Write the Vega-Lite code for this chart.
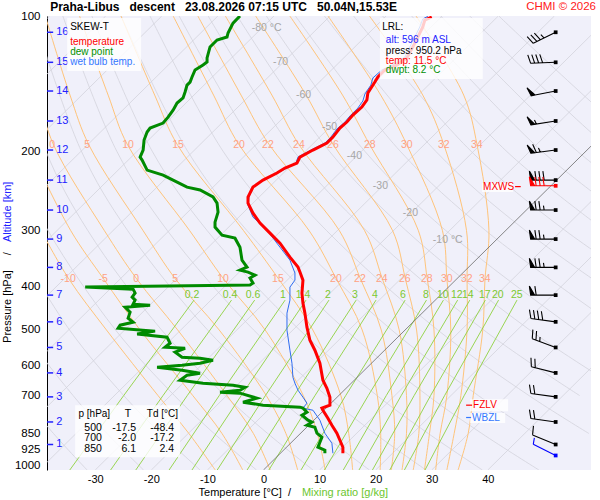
{
  "$schema": "https://vega.github.io/schema/vega-lite/v6.json",
  "description": "Skew-T log-p diagram, Praha-Libus descent 23.08.2026 07:15 UTC",
  "autosize": {"type": "none"},
  "padding": {"left": 47, "top": 16, "right": 9, "bottom": 30},
  "background": "white",
  "width": 544,
  "height": 454,
  "config": {
    "font": "Liberation Sans",
    "view": {"fill": "#f0f0fa", "stroke": null}
  },
  "datasets": {
    "isotherms": [
      {"t": -120, "p": 1025, "tx": -120}, {"t": -120, "p": 100, "tx": -38.13},
      {"t": -110, "p": 1025, "tx": -110}, {"t": -110, "p": 100, "tx": -28.13},
      {"t": -100, "p": 1025, "tx": -100}, {"t": -100, "p": 100, "tx": -18.13},
      {"t": -90, "p": 1025, "tx": -90}, {"t": -90, "p": 100, "tx": -8.13},
      {"t": -80, "p": 1025, "tx": -80}, {"t": -80, "p": 100, "tx": 1.87},
      {"t": -70, "p": 1025, "tx": -70}, {"t": -70, "p": 100, "tx": 11.87},
      {"t": -60, "p": 1025, "tx": -60}, {"t": -60, "p": 100, "tx": 21.87},
      {"t": -50, "p": 1025, "tx": -50}, {"t": -50, "p": 100, "tx": 31.87},
      {"t": -40, "p": 1025, "tx": -40}, {"t": -40, "p": 100, "tx": 41.87},
      {"t": -30, "p": 1025, "tx": -30}, {"t": -30, "p": 100, "tx": 51.87},
      {"t": -20, "p": 1025, "tx": -20}, {"t": -20, "p": 100, "tx": 61.87},
      {"t": -10, "p": 1025, "tx": -10}, {"t": -10, "p": 100, "tx": 71.87},
      {"t": 10, "p": 1025, "tx": 10}, {"t": 10, "p": 100, "tx": 91.87},
      {"t": 20, "p": 1025, "tx": 20}, {"t": 20, "p": 100, "tx": 101.87},
      {"t": 30, "p": 1025, "tx": 30}, {"t": 30, "p": 100, "tx": 111.87},
      {"t": 40, "p": 1025, "tx": 40}, {"t": 40, "p": 100, "tx": 121.87}
    ],
    "dryAdiabats": [
      {"theta": 240, "p": 1025, "tx": -31.45}, {"theta": 240, "p": 850, "tx": -37.45}, {"theta": 240, "p": 700, "tx": -42.97}, {"theta": 240, "p": 500, "tx": -50.99},
      {"theta": 250, "p": 1025, "tx": -21.38}, {"theta": 250, "p": 850, "tx": -27.9}, {"theta": 250, "p": 700, "tx": -33.94}, {"theta": 250, "p": 500, "tx": -42.78}, {"theta": 250, "p": 300, "tx": -52.63},
      {"theta": 260, "p": 1025, "tx": -11.31}, {"theta": 260, "p": 850, "tx": -18.35}, {"theta": 260, "p": 700, "tx": -24.91}, {"theta": 260, "p": 500, "tx": -34.58}, {"theta": 260, "p": 300, "tx": -45.54},
      {"theta": 270, "p": 1025, "tx": -1.24}, {"theta": 270, "p": 850, "tx": -8.81}, {"theta": 270, "p": 700, "tx": -15.87}, {"theta": 270, "p": 500, "tx": -26.38}, {"theta": 270, "p": 300, "tx": -38.45}, {"theta": 270, "p": 200, "tx": -45.11},
      {"theta": 280, "p": 1025, "tx": 8.83}, {"theta": 280, "p": 850, "tx": 0.74}, {"theta": 280, "p": 700, "tx": -6.84}, {"theta": 280, "p": 500, "tx": -18.17}, {"theta": 280, "p": 300, "tx": -31.35}, {"theta": 280, "p": 200, "tx": -38.79}, {"theta": 280, "p": 100, "tx": -46.14},
      {"theta": 290, "p": 1025, "tx": 18.9}, {"theta": 290, "p": 850, "tx": 10.29}, {"theta": 290, "p": 700, "tx": 2.19}, {"theta": 290, "p": 500, "tx": -9.97}, {"theta": 290, "p": 300, "tx": -24.26}, {"theta": 290, "p": 200, "tx": -32.47}, {"theta": 290, "p": 100, "tx": -40.96},
      {"theta": 300, "p": 1025, "tx": 28.97}, {"theta": 300, "p": 850, "tx": 19.83}, {"theta": 300, "p": 700, "tx": 11.22}, {"theta": 300, "p": 500, "tx": -1.76}, {"theta": 300, "p": 300, "tx": -17.17}, {"theta": 300, "p": 200, "tx": -26.16}, {"theta": 300, "p": 100, "tx": -35.78},
      {"theta": 310, "p": 1025, "tx": 39.04}, {"theta": 310, "p": 850, "tx": 29.38}, {"theta": 310, "p": 700, "tx": 20.26}, {"theta": 310, "p": 500, "tx": 6.44}, {"theta": 310, "p": 300, "tx": -10.08}, {"theta": 310, "p": 200, "tx": -19.84}, {"theta": 310, "p": 100, "tx": -30.59},
      {"theta": 320, "p": 1025, "tx": 49.11}, {"theta": 320, "p": 850, "tx": 38.93}, {"theta": 320, "p": 700, "tx": 29.29}, {"theta": 320, "p": 500, "tx": 14.65}, {"theta": 320, "p": 300, "tx": -2.99}, {"theta": 320, "p": 200, "tx": -13.52}, {"theta": 320, "p": 100, "tx": -25.41},
      {"theta": 330, "p": 850, "tx": 48.47}, {"theta": 330, "p": 700, "tx": 38.32}, {"theta": 330, "p": 500, "tx": 22.85}, {"theta": 330, "p": 300, "tx": 4.11}, {"theta": 330, "p": 200, "tx": -7.21}, {"theta": 330, "p": 100, "tx": -20.23},
      {"theta": 340, "p": 850, "tx": 58.02}, {"theta": 340, "p": 700, "tx": 47.35}, {"theta": 340, "p": 500, "tx": 31.06}, {"theta": 340, "p": 300, "tx": 11.2}, {"theta": 340, "p": 200, "tx": -0.89}, {"theta": 340, "p": 100, "tx": -15.04},
      {"theta": 350, "p": 700, "tx": 56.38}, {"theta": 350, "p": 500, "tx": 39.26}, {"theta": 350, "p": 300, "tx": 18.29}, {"theta": 350, "p": 200, "tx": 5.43}, {"theta": 350, "p": 100, "tx": -9.86},
      {"theta": 360, "p": 700, "tx": 65.42}, {"theta": 360, "p": 500, "tx": 47.47}, {"theta": 360, "p": 300, "tx": 25.38}, {"theta": 360, "p": 200, "tx": 11.75}, {"theta": 360, "p": 100, "tx": -4.68},
      {"theta": 370, "p": 500, "tx": 55.67}, {"theta": 370, "p": 300, "tx": 32.47}, {"theta": 370, "p": 200, "tx": 18.06}, {"theta": 370, "p": 100, "tx": 0.51},
      {"theta": 380, "p": 500, "tx": 63.87}, {"theta": 380, "p": 300, "tx": 39.57}, {"theta": 380, "p": 200, "tx": 24.38}, {"theta": 380, "p": 100, "tx": 5.69},
      {"theta": 390, "p": 500, "tx": 72.08}, {"theta": 390, "p": 300, "tx": 46.66}, {"theta": 390, "p": 200, "tx": 30.7}, {"theta": 390, "p": 100, "tx": 10.87},
      {"theta": 400, "p": 500, "tx": 80.28}, {"theta": 400, "p": 300, "tx": 53.75}, {"theta": 400, "p": 200, "tx": 37.01}, {"theta": 400, "p": 100, "tx": 16.06},
      {"theta": 410, "p": 300, "tx": 60.84}, {"theta": 410, "p": 200, "tx": 43.33}, {"theta": 410, "p": 100, "tx": 21.24},
      {"theta": 420, "p": 300, "tx": 67.93}, {"theta": 420, "p": 200, "tx": 49.65}, {"theta": 420, "p": 100, "tx": 26.42},
      {"theta": 430, "p": 300, "tx": 75.03}, {"theta": 430, "p": 200, "tx": 55.97}, {"theta": 430, "p": 100, "tx": 31.61},
      {"theta": 440, "p": 300, "tx": 82.12}, {"theta": 440, "p": 200, "tx": 62.28}, {"theta": 440, "p": 100, "tx": 36.79},
      {"theta": 450, "p": 300, "tx": 89.21}, {"theta": 450, "p": 200, "tx": 68.6}, {"theta": 450, "p": 100, "tx": 41.97}
    ],
    "moistAdiabats": [
      {"tw": -10, "p": 1025, "tx": -8.6}, {"tw": -10, "p": 850, "tx": -13.3}, {"tw": -10, "p": 700, "tx": -18.8}, {"tw": -10, "p": 500, "tx": -28.0}, {"tw": -10, "p": 385, "tx": -34.7}, {"tw": -10, "p": 300, "tx": -39.7},
      {"tw": -5, "p": 1025, "tx": -3.7}, {"tw": -5, "p": 850, "tx": -7.4}, {"tw": -5, "p": 700, "tx": -12.6}, {"tw": -5, "p": 500, "tx": -22.0}, {"tw": -5, "p": 385, "tx": -28.5}, {"tw": -5, "p": 300, "tx": -34.4}, {"tw": -5, "p": 194, "tx": -42.0},
      {"tw": 0, "p": 1025, "tx": 1.2}, {"tw": 0, "p": 850, "tx": -1.8}, {"tw": 0, "p": 700, "tx": -6.5}, {"tw": 0, "p": 500, "tx": -15.3}, {"tw": 0, "p": 385, "tx": -22.6}, {"tw": 0, "p": 300, "tx": -28.4}, {"tw": 0, "p": 194, "tx": -37.4}, {"tw": 0, "p": 150, "tx": -40.2}, {"tw": 0, "p": 100, "tx": -44.0},
      {"tw": 5, "p": 1025, "tx": 6.1}, {"tw": 5, "p": 850, "tx": 4.0}, {"tw": 5, "p": 700, "tx": 0.5}, {"tw": 5, "p": 500, "tx": -7.9}, {"tw": 5, "p": 385, "tx": -15.7}, {"tw": 5, "p": 300, "tx": -21.5}, {"tw": 5, "p": 194, "tx": -31.1}, {"tw": 5, "p": 150, "tx": -34.5}, {"tw": 5, "p": 100, "tx": -38.9},
      {"tw": 10, "p": 1025, "tx": 11.0}, {"tw": 10, "p": 850, "tx": 9.6}, {"tw": 10, "p": 700, "tx": 7.1}, {"tw": 10, "p": 500, "tx": 0.3}, {"tw": 10, "p": 385, "tx": -7.1}, {"tw": 10, "p": 300, "tx": -13.2}, {"tw": 10, "p": 194, "tx": -24.2}, {"tw": 10, "p": 150, "tx": -27.7}, {"tw": 10, "p": 100, "tx": -32.8},
      {"tw": 15, "p": 1025, "tx": 15.9}, {"tw": 15, "p": 850, "tx": 15.2}, {"tw": 15, "p": 700, "tx": 13.8}, {"tw": 15, "p": 500, "tx": 8.8}, {"tw": 15, "p": 385, "tx": 2.7}, {"tw": 15, "p": 300, "tx": -3.6}, {"tw": 15, "p": 194, "tx": -15.3}, {"tw": 15, "p": 150, "tx": -19.4}, {"tw": 15, "p": 100, "tx": -25.4},
      {"tw": 20, "p": 1025, "tx": 20.8}, {"tw": 20, "p": 850, "tx": 20.9}, {"tw": 20, "p": 700, "tx": 20.3}, {"tw": 20, "p": 500, "tx": 17.6}, {"tw": 20, "p": 385, "tx": 13.0}, {"tw": 20, "p": 300, "tx": 8.1}, {"tw": 20, "p": 194, "tx": -4.3}, {"tw": 20, "p": 150, "tx": -8.9}, {"tw": 20, "p": 100, "tx": -16.1},
      {"tw": 22, "p": 1025, "tx": 22.8}, {"tw": 22, "p": 850, "tx": 23.4}, {"tw": 22, "p": 700, "tx": 22.9}, {"tw": 22, "p": 500, "tx": 21.0}, {"tw": 22, "p": 385, "tx": 17.3}, {"tw": 22, "p": 300, "tx": 13.5}, {"tw": 22, "p": 194, "tx": 1.1}, {"tw": 22, "p": 150, "tx": -4.0}, {"tw": 22, "p": 100, "tx": -11.7},
      {"tw": 24, "p": 1025, "tx": 24.7}, {"tw": 24, "p": 850, "tx": 25.5}, {"tw": 24, "p": 700, "tx": 25.5}, {"tw": 24, "p": 500, "tx": 24.2}, {"tw": 24, "p": 385, "tx": 21.2}, {"tw": 24, "p": 300, "tx": 18.0}, {"tw": 24, "p": 194, "tx": 6.4}, {"tw": 24, "p": 150, "tx": 1.5}, {"tw": 24, "p": 100, "tx": -6.8},
      {"tw": 26, "p": 1025, "tx": 26.7}, {"tw": 26, "p": 850, "tx": 27.7}, {"tw": 26, "p": 700, "tx": 27.9}, {"tw": 26, "p": 500, "tx": 27.3}, {"tw": 26, "p": 385, "tx": 25.3}, {"tw": 26, "p": 300, "tx": 23.0}, {"tw": 26, "p": 194, "tx": 12.5}, {"tw": 26, "p": 150, "tx": 7.6}, {"tw": 26, "p": 100, "tx": -1.4},
      {"tw": 28, "p": 1025, "tx": 28.7}, {"tw": 28, "p": 850, "tx": 29.6}, {"tw": 28, "p": 700, "tx": 30.4}, {"tw": 28, "p": 500, "tx": 30.4}, {"tw": 28, "p": 385, "tx": 29.2}, {"tw": 28, "p": 300, "tx": 27.6}, {"tw": 28, "p": 194, "tx": 19.0}, {"tw": 28, "p": 150, "tx": 14.1}, {"tw": 28, "p": 100, "tx": 4.7},
      {"tw": 30, "p": 1025, "tx": 30.7}, {"tw": 30, "p": 850, "tx": 31.5}, {"tw": 30, "p": 700, "tx": 32.7}, {"tw": 30, "p": 500, "tx": 33.4}, {"tw": 30, "p": 385, "tx": 32.7}, {"tw": 30, "p": 300, "tx": 31.9}, {"tw": 30, "p": 194, "tx": 25.6}, {"tw": 30, "p": 150, "tx": 20.9}, {"tw": 30, "p": 100, "tx": 11.5},
      {"tw": 32, "p": 1025, "tx": 32.7}, {"tw": 32, "p": 850, "tx": 34.0}, {"tw": 32, "p": 700, "tx": 35.2}, {"tw": 32, "p": 500, "tx": 36.3}, {"tw": 32, "p": 385, "tx": 36.3}, {"tw": 32, "p": 300, "tx": 36.2}, {"tw": 32, "p": 194, "tx": 32.2}, {"tw": 32, "p": 150, "tx": 28.4}, {"tw": 32, "p": 100, "tx": 18.9},
      {"tw": 34, "p": 1025, "tx": 34.7}, {"tw": 34, "p": 850, "tx": 36.5}, {"tw": 34, "p": 700, "tx": 37.4}, {"tw": 34, "p": 500, "tx": 39.1}, {"tw": 34, "p": 385, "tx": 39.5}, {"tw": 34, "p": 300, "tx": 40.2}, {"tw": 34, "p": 194, "tx": 38.1}, {"tw": 34, "p": 150, "tx": 35.7}, {"tw": 34, "p": 100, "tx": 27.2}
    ],
    "mixingRatio": [
      {"w": 0.2, "p": 1025, "tx": -34.54}, {"w": 0.2, "p": 700, "tx": -24.93}, {"w": 0.2, "p": 429, "tx": -12.38},
      {"w": 0.4, "p": 1025, "tx": -27.26}, {"w": 0.4, "p": 700, "tx": -17.92}, {"w": 0.4, "p": 429, "tx": -5.69},
      {"w": 0.6, "p": 1025, "tx": -22.77}, {"w": 0.6, "p": 700, "tx": -13.59}, {"w": 0.6, "p": 429, "tx": -1.57},
      {"w": 1, "p": 1025, "tx": -16.83}, {"w": 1, "p": 700, "tx": -7.89}, {"w": 1, "p": 429, "tx": 3.86},
      {"w": 1.4, "p": 1025, "tx": -12.75}, {"w": 1.4, "p": 700, "tx": -3.97}, {"w": 1.4, "p": 429, "tx": 7.59},
      {"w": 2, "p": 1025, "tx": -8.25}, {"w": 2, "p": 700, "tx": 0.34}, {"w": 2, "p": 429, "tx": 11.68},
      {"w": 3, "p": 1025, "tx": -2.92}, {"w": 3, "p": 700, "tx": 5.46}, {"w": 3, "p": 429, "tx": 16.53},
      {"w": 4, "p": 1025, "tx": 0.96}, {"w": 4, "p": 700, "tx": 9.18}, {"w": 4, "p": 429, "tx": 20.07},
      {"w": 6, "p": 1025, "tx": 6.69}, {"w": 6, "p": 700, "tx": 14.66}, {"w": 6, "p": 429, "tx": 25.26},
      {"w": 8, "p": 1025, "tx": 10.88}, {"w": 8, "p": 700, "tx": 18.68}, {"w": 8, "p": 429, "tx": 29.06},
      {"w": 10, "p": 1025, "tx": 14.23}, {"w": 10, "p": 700, "tx": 21.89}, {"w": 10, "p": 429, "tx": 32.09},
      {"w": 12, "p": 1025, "tx": 17.03}, {"w": 12, "p": 700, "tx": 24.56}, {"w": 12, "p": 429, "tx": 34.62},
      {"w": 14, "p": 1025, "tx": 19.43}, {"w": 14, "p": 700, "tx": 26.86}, {"w": 14, "p": 429, "tx": 36.79},
      {"w": 17, "p": 1025, "tx": 22.52}, {"w": 17, "p": 700, "tx": 29.79}, {"w": 17, "p": 429, "tx": 39.56},
      {"w": 20, "p": 1025, "tx": 25.13}, {"w": 20, "p": 700, "tx": 32.29}, {"w": 20, "p": 429, "tx": 41.92},
      {"w": 25, "p": 1025, "tx": 28.8}, {"w": 25, "p": 700, "tx": 35.79}, {"w": 25, "p": 429, "tx": 45.21}
    ],
    "temperature": [
      {"p": 940.6, "tx": 14.16}, {"p": 912.1, "tx": 14.16}, {"p": 880.0, "tx": 13.63}, {"p": 848.9, "tx": 13.09}, {"p": 814.8, "tx": 12.2},
      {"p": 786.0, "tx": 11.49}, {"p": 754.4, "tx": 10.6}, {"p": 746.6, "tx": 10.42}, {"p": 735.2, "tx": 11.85}, {"p": 705.7, "tx": 11.85},
      {"p": 674.3, "tx": 11.31}, {"p": 647.1, "tx": 10.6}, {"p": 593.0, "tx": 10.06}, {"p": 554.7, "tx": 9.17}, {"p": 527.0, "tx": 8.28},
      {"p": 492.9, "tx": 7.75}, {"p": 458.7, "tx": 7.39}, {"p": 435.8, "tx": 7.04}, {"p": 414.0, "tx": 6.86}, {"p": 387.3, "tx": 7.04},
      {"p": 371.6, "tx": 6.5}, {"p": 362.2, "tx": 6.15}, {"p": 344.3, "tx": 4.72}, {"p": 320.4, "tx": 2.94}, {"p": 304.3, "tx": 1.16},
      {"p": 289.1, "tx": -0.62}, {"p": 274.7, "tx": -1.87}, {"p": 260.9, "tx": -2.76}, {"p": 252.9, "tx": -2.76}, {"p": 240.4, "tx": -1.87},
      {"p": 231.9, "tx": -0.09}, {"p": 223.7, "tx": 2.4}, {"p": 218.0, "tx": 3.83}, {"p": 212.6, "tx": 5.97}, {"p": 206.1, "tx": 6.5},
      {"p": 198.8, "tx": 8.82}, {"p": 191.8, "tx": 11.31}, {"p": 186.0, "tx": 12.38}, {"p": 177.6, "tx": 13.63}, {"p": 172.2, "tx": 14.87},
      {"p": 166.2, "tx": 15.94}, {"p": 159.5, "tx": 17.54}, {"p": 153.8, "tx": 18.44}, {"p": 148.4, "tx": 18.61}, {"p": 140.3, "tx": 19.86},
      {"p": 136.7, "tx": 20.4}, {"p": 131.9, "tx": 21.64}, {"p": 128.6, "tx": 23.78}, {"p": 124.0, "tx": 25.56}, {"p": 117.2, "tx": 26.63},
      {"p": 111.4, "tx": 27.52}, {"p": 105.8, "tx": 28.41}, {"p": 102.1, "tx": 28.77}, {"p": 100.5, "tx": 30.01}
    ],
    "wetBulb": [
      {"p": 940.6, "tx": 12.38}, {"p": 893.7, "tx": 12.2}, {"p": 848.9, "tx": 10.95}, {"p": 794.1, "tx": 10.06}, {"p": 754.4, "tx": 8.82},
      {"p": 746.6, "tx": 7.04}, {"p": 727.7, "tx": 7.75}, {"p": 705.7, "tx": 7.04}, {"p": 680.8, "tx": 6.15}, {"p": 657.2, "tx": 5.61},
      {"p": 637.2, "tx": 5.25}, {"p": 593.0, "tx": 5.08}, {"p": 554.7, "tx": 4.72}, {"p": 500.6, "tx": 4.19}, {"p": 458.7, "tx": 4.19},
      {"p": 429.1, "tx": 4.72}, {"p": 401.4, "tx": 4.72}, {"p": 387.3, "tx": 5.61}, {"p": 373.5, "tx": 5.61}, {"p": 349.6, "tx": 4.72},
      {"p": 327.1, "tx": 2.94}, {"p": 299.7, "tx": 0.62}, {"p": 280.4, "tx": -1.87}, {"p": 263.7, "tx": -2.76}, {"p": 252.9, "tx": -2.58},
      {"p": 240.4, "tx": -1.87}, {"p": 233.1, "tx": -0.27}, {"p": 220.3, "tx": 3.47}, {"p": 212.6, "tx": 5.79}, {"p": 206.1, "tx": 6.15},
      {"p": 198.8, "tx": 8.46}, {"p": 191.8, "tx": 10.95}, {"p": 186.0, "tx": 12.02}, {"p": 178.5, "tx": 13.09}, {"p": 172.2, "tx": 14.52},
      {"p": 167.0, "tx": 15.41}, {"p": 160.3, "tx": 16.83}, {"p": 154.6, "tx": 17.72}, {"p": 149.2, "tx": 18.08}, {"p": 142.5, "tx": 19.15},
      {"p": 137.4, "tx": 19.5}, {"p": 131.9, "tx": 21.11}, {"p": 127.9, "tx": 23.42}, {"p": 123.4, "tx": 25.21}, {"p": 117.2, "tx": 26.1},
      {"p": 111.4, "tx": 26.98}, {"p": 105.8, "tx": 27.87}, {"p": 101.5, "tx": 28.41}, {"p": 100.2, "tx": 29.3}
    ],
    "dewPoint": [
      {"p": 100, "tx": -4.19}, {"p": 103.7, "tx": -5.43}, {"p": 109.1, "tx": -6.32}, {"p": 111.4, "tx": -6.5}, {"p": 113.1, "tx": -8.28},
      {"p": 117.2, "tx": -9.53}, {"p": 124.0, "tx": -10.06}, {"p": 126.6, "tx": -10.06}, {"p": 128.6, "tx": -10.78}, {"p": 131.9, "tx": -12.2},
      {"p": 136.7, "tx": -12.74}, {"p": 140.3, "tx": -13.09}, {"p": 142.5, "tx": -13.63}, {"p": 147.6, "tx": -13.98}, {"p": 152.2, "tx": -14.34},
      {"p": 156.2, "tx": -15.41}, {"p": 162.0, "tx": -16.12}, {"p": 167.9, "tx": -17.01}, {"p": 173.1, "tx": -17.9}, {"p": 177.6, "tx": -20.22},
      {"p": 181.3, "tx": -20.75}, {"p": 188.9, "tx": -21.29}, {"p": 198.8, "tx": -21.46}, {"p": 206.1, "tx": -22.0}, {"p": 209.3, "tx": -21.64},
      {"p": 220.3, "tx": -20.75}, {"p": 226.0, "tx": -17.9}, {"p": 231.9, "tx": -16.12}, {"p": 240.4, "tx": -13.63}, {"p": 244.0, "tx": -11.31},
      {"p": 252.9, "tx": -9.0}, {"p": 260.9, "tx": -8.28}, {"p": 273.3, "tx": -8.1}, {"p": 287.7, "tx": -8.64}, {"p": 295.1, "tx": -8.64},
      {"p": 307.5, "tx": -7.39}, {"p": 312.3, "tx": -5.08}, {"p": 327.1, "tx": -4.19}, {"p": 349.6, "tx": -3.83}, {"p": 362.2, "tx": -2.94},
      {"p": 367.9, "tx": -4.19}, {"p": 371.6, "tx": -2.76}, {"p": 377.4, "tx": -1.51}, {"p": 383.2, "tx": -2.4}, {"p": 393.3, "tx": -1.87},
      {"p": 397.3, "tx": -2.4}, {"p": 401.4, "tx": -31.79}, {"p": 405.6, "tx": -23.25}, {"p": 414.0, "tx": -22.89}, {"p": 422.6, "tx": -23.42},
      {"p": 429.1, "tx": -22.89}, {"p": 438.0, "tx": -23.25}, {"p": 440.3, "tx": -20.22}, {"p": 444.9, "tx": -24.67}, {"p": 456.4, "tx": -23.78},
      {"p": 470.6, "tx": -24.14}, {"p": 480.4, "tx": -23.25}, {"p": 487.9, "tx": -25.56}, {"p": 495.5, "tx": -25.92}, {"p": 503.0, "tx": -19.33},
      {"p": 510.7, "tx": -22.53}, {"p": 518.9, "tx": -17.19}, {"p": 535.2, "tx": -16.65}, {"p": 546.3, "tx": -17.54}, {"p": 549.1, "tx": -13.98},
      {"p": 560.4, "tx": -15.76}, {"p": 575.0, "tx": -14.52}, {"p": 577.9, "tx": -11.31}, {"p": 583.9, "tx": -9.0}, {"p": 593.0, "tx": -11.31},
      {"p": 599.1, "tx": -14.52}, {"p": 605.3, "tx": -18.97}, {"p": 614.7, "tx": -14.52}, {"p": 624.3, "tx": -11.31}, {"p": 630.7, "tx": -13.63},
      {"p": 647.1, "tx": -14.87}, {"p": 657.2, "tx": -10.78}, {"p": 663.9, "tx": -5.43}, {"p": 670.8, "tx": -3.3}, {"p": 680.8, "tx": -4.19},
      {"p": 687.8, "tx": -7.75}, {"p": 691.3, "tx": -4.19}, {"p": 709.3, "tx": -1.16}, {"p": 724.0, "tx": -3.65}, {"p": 735.2, "tx": -0.09},
      {"p": 742.8, "tx": 6.5}, {"p": 746.6, "tx": 7.04}, {"p": 762.1, "tx": 7.75}, {"p": 774.0, "tx": 6.86}, {"p": 794.1, "tx": 7.93},
      {"p": 802.3, "tx": 8.64}, {"p": 814.8, "tx": 7.75}, {"p": 823.2, "tx": 9.17}, {"p": 848.9, "tx": 9.53}, {"p": 866.5, "tx": 10.42},
      {"p": 912.1, "tx": 9.71}, {"p": 926.3, "tx": 10.95}, {"p": 940.6, "tx": 10.95}
    ],
    "altitudeTicks": [
      {"km": 16, "p": 108.7, "tx": -38.6, "tx2": -37.5}, {"km": 15, "p": 126.8, "tx": -38.6, "tx2": -37.5},
      {"km": 14, "p": 146.9, "tx": -38.6, "tx2": -37.5}, {"km": 13, "p": 171.3, "tx": -38.6, "tx2": -37.5},
      {"km": 12, "p": 198.8, "tx": -38.6, "tx2": -37.5}, {"km": 11, "p": 231.9, "tx": -38.6, "tx2": -37.5},
      {"km": 10, "p": 270.4, "tx": -38.6, "tx2": -37.5}, {"km": 9, "p": 313.8, "tx": -38.6, "tx2": -37.5},
      {"km": 8, "p": 362.8, "tx": -38.6, "tx2": -37.5}, {"km": 7, "p": 418.2, "tx": -38.6, "tx2": -37.5},
      {"km": 6, "p": 479.6, "tx": -38.6, "tx2": -37.5}, {"km": 5, "p": 546.9, "tx": -38.6, "tx2": -37.5},
      {"km": 4, "p": 623.1, "tx": -38.6, "tx2": -37.5}, {"km": 3, "p": 704.6, "tx": -38.6, "tx2": -37.5},
      {"km": 2, "p": 801.3, "tx": -38.6, "tx2": -37.5}, {"km": 1, "p": 899.4, "tx": -38.6, "tx2": -37.5}
    ],
    "altitudeLabels": [
      {"text": "16", "p": 108.7, "tx": -36.96}, {"text": "15", "p": 126.8, "tx": -36.96}, {"text": "14", "p": 146.9, "tx": -36.96},
      {"text": "13", "p": 171.3, "tx": -36.96}, {"text": "12", "p": 198.8, "tx": -36.96}, {"text": "11", "p": 231.9, "tx": -36.96},
      {"text": "10", "p": 270.4, "tx": -36.96}, {"text": "9", "p": 313.8, "tx": -36.96}, {"text": "8", "p": 362.8, "tx": -36.96},
      {"text": "7", "p": 418.2, "tx": -36.96}, {"text": "6", "p": 479.6, "tx": -36.96}, {"text": "5", "p": 546.9, "tx": -36.96},
      {"text": "4", "p": 623.1, "tx": -36.96}, {"text": "3", "p": 704.6, "tx": -36.96}, {"text": "2", "p": 801.3, "tx": -36.96},
      {"text": "1", "p": 899.4, "tx": -36.96}
    ],
    "winds": [
      {"p": 108.7, "tx": 52.1, "barb": "b16", "kind": "wind"}, {"p": 126.8, "tx": 52.1, "barb": "b15", "kind": "wind"},
      {"p": 146.9, "tx": 52.1, "barb": "b14", "kind": "wind"}, {"p": 171.3, "tx": 52.1, "barb": "b13", "kind": "wind"},
      {"p": 198.8, "tx": 52.1, "barb": "b12", "kind": "wind"}, {"p": 231.9, "tx": 52.1, "barb": "b11", "kind": "wind"},
      {"p": 238.8, "tx": 52.1, "barb": "mx", "kind": "mx"}, {"p": 270.4, "tx": 52.1, "barb": "b10", "kind": "wind"},
      {"p": 313.8, "tx": 52.1, "barb": "b9", "kind": "wind"}, {"p": 362.8, "tx": 52.1, "barb": "b8", "kind": "wind"},
      {"p": 418.2, "tx": 52.1, "barb": "b7", "kind": "wind"}, {"p": 479.6, "tx": 52.1, "barb": "b6", "kind": "wind"},
      {"p": 546.9, "tx": 52.1, "barb": "b5", "kind": "wind"}, {"p": 623.1, "tx": 52.1, "barb": "b4", "kind": "wind"},
      {"p": 704.6, "tx": 52.1, "barb": "b3", "kind": "wind"}, {"p": 801.3, "tx": 52.1, "barb": "b2", "kind": "wind"},
      {"p": 899.4, "tx": 52.1, "barb": "b1", "kind": "wind"}, {"p": 951.5, "tx": 52.1, "barb": "sfc", "kind": "sfc"}
    ],
    "windDots": [
      {"p": 108.7, "tx": 52.1, "kind": "wind"}, {"p": 126.8, "tx": 52.1, "kind": "wind"}, {"p": 146.9, "tx": 52.1, "kind": "wind"},
      {"p": 171.3, "tx": 52.1, "kind": "wind"}, {"p": 198.8, "tx": 52.1, "kind": "wind"}, {"p": 231.9, "tx": 52.1, "kind": "wind"},
      {"p": 238.8, "tx": 52.1, "kind": "mx"}, {"p": 270.4, "tx": 52.1, "kind": "wind"}, {"p": 313.8, "tx": 52.1, "kind": "wind"},
      {"p": 362.8, "tx": 52.1, "kind": "wind"}, {"p": 418.2, "tx": 52.1, "kind": "wind"}, {"p": 479.6, "tx": 52.1, "kind": "wind"},
      {"p": 546.9, "tx": 52.1, "kind": "wind"}, {"p": 623.1, "tx": 52.1, "kind": "wind"}, {"p": 704.6, "tx": 52.1, "kind": "wind"},
      {"p": 801.3, "tx": 52.1, "kind": "wind"}, {"p": 899.4, "tx": 52.1, "kind": "wind"}, {"p": 951.5, "tx": 52.1, "kind": "sfc"}
    ],
    "isothermLabels": [
      {"tx": -2.1, "p": 106.2, "text": "-80 °C"}, {"tx": 1.69, "p": 126.8, "text": "-70"},
      {"tx": 5.79, "p": 150.0, "text": "-60"}, {"tx": 10.42, "p": 176.4, "text": "-50"},
      {"tx": 14.87, "p": 205.0, "text": "-40"}, {"tx": 19.5, "p": 238.8, "text": "-30"},
      {"tx": 24.85, "p": 274.2, "text": "-20"}, {"tx": 30.19, "p": 315.4, "text": "-10 °C"}
    ],
    "moistLabels": [
      {"tx": -34.82, "p": 385, "text": "-10"}, {"tx": -28.59, "p": 385, "text": "-5"}, {"tx": -22.71, "p": 385, "text": "0"},
      {"tx": -15.76, "p": 385, "text": "5"}, {"tx": -7.21, "p": 385, "text": "10"}, {"tx": 2.58, "p": 385, "text": "15"},
      {"tx": 12.91, "p": 385, "text": "20"}, {"tx": 17.19, "p": 385, "text": "22"}, {"tx": 21.11, "p": 385, "text": "24"},
      {"tx": 25.2, "p": 385, "text": "26"}, {"tx": 29.12, "p": 385, "text": "28"}, {"tx": 32.69, "p": 385, "text": "30"},
      {"tx": 36.25, "p": 385, "text": "32"}, {"tx": 39.45, "p": 385, "text": "34"},
      {"tx": -37.67, "p": 193.8, "text": "0"}, {"tx": -31.44, "p": 193.8, "text": "5"}, {"tx": -24.14, "p": 193.8, "text": "10"},
      {"tx": -15.23, "p": 193.8, "text": "15"}, {"tx": -4.36, "p": 193.8, "text": "20"}, {"tx": 0.8, "p": 193.8, "text": "22"},
      {"tx": 6.32, "p": 193.8, "text": "24"}, {"tx": 12.38, "p": 193.8, "text": "26"}, {"tx": 18.97, "p": 193.8, "text": "28"},
      {"tx": 25.56, "p": 193.8, "text": "30"}, {"tx": 32.15, "p": 193.8, "text": "32"}, {"tx": 38.03, "p": 193.8, "text": "34"}
    ],
    "mixingLabels": [
      {"tx": -12.74, "p": 418.2, "text": "0.2"}, {"tx": -5.97, "p": 418.2, "text": "0.4"}, {"tx": -1.87, "p": 418.2, "text": "0.6"},
      {"tx": 3.47, "p": 418.2, "text": "1"}, {"tx": 7.04, "p": 418.2, "text": "1.4"}, {"tx": 11.49, "p": 418.2, "text": "2"},
      {"tx": 16.3, "p": 418.2, "text": "3"}, {"tx": 19.86, "p": 418.2, "text": "4"}, {"tx": 24.85, "p": 418.2, "text": "6"},
      {"tx": 28.95, "p": 418.2, "text": "8"}, {"tx": 31.97, "p": 418.2, "text": "10"}, {"tx": 34.47, "p": 418.2, "text": "12"},
      {"tx": 36.43, "p": 418.2, "text": "14"}, {"tx": 39.45, "p": 418.2, "text": "17"}, {"tx": 41.77, "p": 418.2, "text": "20"},
      {"tx": 45.16, "p": 418.2, "text": "25"}
    ],
    "boxes": [
      {"tx": -35.0, "tx2": -21.82, "p": 101.0, "p2": 132.6},
      {"tx": 20.75, "tx2": 39.1, "p": 101.0, "p2": 138.1},
      {"tx": -33.58, "tx2": -14.87, "p": 735.2, "p2": 959.8},
      {"tx": 38.98, "tx2": 44.51, "p": 235.5, "p2": 246.6},
      {"tx": 36.85, "tx2": 43.62, "p": 712.9, "p2": 758.3},
      {"tx": 36.85, "tx2": 43.1, "p": 764.9, "p2": 805.2}
    ],
    "notesLeft": [
      {"tx": -34.47, "p": 105.8, "text": "SKEW-T", "role": "plain"},
      {"tx": -34.47, "p": 114.3, "text": "temperature", "role": "temp"},
      {"tx": -34.47, "p": 120.3, "text": "dew point", "role": "dew"},
      {"tx": -34.47, "p": 126.6, "text": "wet bulb temp.", "role": "wet"},
      {"tx": 21.16, "p": 106.0, "text": "LRL:", "role": "plain"},
      {"tx": 21.82, "p": 113.1, "text": "alt: 596 m ASL", "role": "alt"},
      {"tx": 21.82, "p": 119.5, "text": "press: 950.2 hPa", "role": "plain"},
      {"tx": 21.82, "p": 125.8, "text": "temp: 11.5 °C", "role": "temp"},
      {"tx": 21.82, "p": 131.9, "text": "dwpt: 8.2 °C", "role": "dew"},
      {"tx": -32.99, "p": 767.4, "text": "p [hPa]", "role": "plain"},
      {"tx": -20.8, "p": 767.4, "text": "Td [°C]", "role": "plain"},
      {"tx": 39.16, "p": 239.8, "text": "MXWS", "role": "temp"},
      {"tx": 37.38, "p": 735.2, "text": "FZLV", "role": "temp"},
      {"tx": 37.2, "p": 783.2, "text": "WBZL", "role": "wet"}
    ],
    "notesRight": [
      {"tx": -23.6, "p": 767.4, "text": "T"},
      {"tx": -28.82, "p": 828.5, "text": "500"}, {"tx": -22.71, "p": 828.5, "text": "-17.5"}, {"tx": -15.94, "p": 828.5, "text": "-48.4"},
      {"tx": -28.82, "p": 872.0, "text": "700"}, {"tx": -22.71, "p": 872.0, "text": "-2.0"}, {"tx": -15.94, "p": 872.0, "text": "-17.2"},
      {"tx": -28.82, "p": 918.1, "text": "850"}, {"tx": -22.71, "p": 918.1, "text": "6.1"}, {"tx": -15.94, "p": 918.1, "text": "2.4"}
    ],
    "levelMarks": [
      {"tx": 44.86, "tx2": 45.87, "p": 239.8, "role": "temp"},
      {"tx": 36.13, "tx2": 37.2, "p": 735.2, "role": "temp"},
      {"tx": 36.13, "tx2": 37.02, "p": 783.2, "role": "wet"}
    ]
  },
  "encoding": {
    "x": {
      "field": "tx", "type": "quantitative",
      "scale": {"domain": [-38.6, 58.4], "nice": false, "zero": false},
      "axis": {"values": [-30, -20, -10, 0, 10, 20, 30, 40], "labelExpr": "datum.value + ''", "ticks": false, "domain": false, "grid": false, "title": null, "labelFontSize": 11, "labelColor": "#000000", "labelPadding": 3, "labelFlush": false, "labelOverlap": false}
    },
    "y": {
      "field": "p", "type": "quantitative",
      "scale": {"type": "log", "domain": [100, 1025], "reverse": true, "nice": false},
      "axis": {"values": [100, 200, 300, 400, 500, 600, 700, 850, 925, 1000], "labelExpr": "datum.value + ''", "ticks": false, "domain": true, "domainColor": "#000000", "grid": false, "title": null, "labelFontSize": 11.5, "labelColor": "#000000", "labelPadding": 7, "labelFlush": false, "labelOverlap": false}
    }
  },
  "layer": [
    {
      "data": {"name": "isotherms"},
      "mark": {"type": "line", "color": "#d3d3dc", "strokeWidth": 0.8, "clip": true},
      "encoding": {"detail": {"field": "t", "type": "nominal"}, "order": {"field": "p", "type": "quantitative", "sort": "descending"}}
    },
    {
      "data": {"name": "dryAdiabats"},
      "mark": {"type": "line", "color": "#d3d3dc", "strokeWidth": 0.8, "clip": true, "interpolate": "catmull-rom"},
      "encoding": {"detail": {"field": "theta", "type": "nominal"}, "order": {"field": "p", "type": "quantitative", "sort": "descending"}}
    },
    {
      "data": {"name": "moistAdiabats"},
      "mark": {"type": "line", "color": "#ffc47a", "strokeWidth": 1, "clip": true, "interpolate": "catmull-rom"},
      "encoding": {"detail": {"field": "tw", "type": "nominal"}, "order": {"field": "p", "type": "quantitative", "sort": "descending"}}
    },
    {
      "data": {"name": "mixingRatio"},
      "mark": {"type": "line", "color": "#8fd13f", "strokeWidth": 0.9, "clip": true},
      "encoding": {"detail": {"field": "w", "type": "nominal"}, "order": {"field": "p", "type": "quantitative", "sort": "descending"}}
    },
    {
      "data": {"values": [{"p": 1025, "tx": 0}, {"p": 100, "tx": 81.87}]},
      "mark": {"type": "line", "color": "#6a6a6a", "strokeWidth": 0.8, "clip": true},
      "encoding": {"order": {"field": "p", "type": "quantitative", "sort": "descending"}}
    },
    {
      "data": {"values": [{"p": 100}]},
      "mark": {"type": "rect", "color": "#f0f0fa", "opacity": 1},
      "encoding": {"x": {"datum": 41.3}, "x2": {"datum": 58.4}, "y": {"datum": 100}, "y2": {"datum": 1025}}
    },
    {
      "data": {"values": [{"p": 200}, {"p": 300}, {"p": 400}, {"p": 500}, {"p": 600}, {"p": 700}]},
      "mark": {"type": "rule", "color": "#a4a4a4", "strokeWidth": 1.5},
      "encoding": {"x": {"datum": -38.6}, "x2": {"datum": 41.3}}
    },
    {
      "data": {"values": [{"p": 850}, {"p": 925}, {"p": 1000}]},
      "mark": {"type": "rule", "color": "#a4a4a4", "strokeWidth": 1.5},
      "encoding": {"x": {"datum": -38.6}, "x2": {"datum": 50.14}}
    },
    {
      "data": {"values": [{"p": 100}]},
      "mark": {"type": "rule", "color": "#000000", "strokeWidth": 1},
      "encoding": {"x": {"datum": -38.6}, "x2": {"datum": 29.8}}
    },
    {
      "data": {"name": "isothermLabels"},
      "mark": {"type": "text", "align": "left", "color": "#a6a6a6", "fontSize": 10.5},
      "encoding": {"text": {"field": "text"}}
    },
    {
      "data": {"name": "moistLabels"},
      "mark": {"type": "text", "color": "#ffa283", "fontSize": 10.5},
      "encoding": {"text": {"field": "text"}}
    },
    {
      "data": {"name": "mixingLabels"},
      "mark": {"type": "text", "color": "#7cc830", "fontSize": 10.5},
      "encoding": {"text": {"field": "text"}}
    },
    {
      "data": {"name": "wetBulb"},
      "mark": {"type": "line", "color": "#2f6cf0", "strokeWidth": 1, "clip": true},
      "encoding": {"order": {"field": "p", "type": "quantitative", "sort": "descending"}}
    },
    {
      "data": {"name": "dewPoint"},
      "mark": {"type": "line", "color": "#008a00", "strokeWidth": 3, "clip": true},
      "encoding": {"order": {"field": "p", "type": "quantitative", "sort": "descending"}}
    },
    {
      "data": {"name": "temperature"},
      "mark": {"type": "line", "color": "#ff0000", "strokeWidth": 3, "clip": true},
      "encoding": {"order": {"field": "p", "type": "quantitative", "sort": "descending"}}
    },
    {
      "data": {"name": "altitudeTicks"},
      "mark": {"type": "rule", "color": "#2222ff", "strokeWidth": 1.5},
      "encoding": {"x2": {"field": "tx2"}}
    },
    {
      "data": {"name": "altitudeLabels"},
      "mark": {"type": "text", "align": "left", "color": "#2222ff", "fontSize": 11},
      "encoding": {"text": {"field": "text"}}
    },
    {
      "data": {"name": "boxes"},
      "mark": {"type": "rect", "color": "#ffffff", "opacity": 0.8},
      "encoding": {"x2": {"field": "tx2"}, "y2": {"field": "p2"}}
    },
    {
      "data": {"name": "levelMarks"},
      "mark": {"type": "rule", "strokeWidth": 1.2},
      "encoding": {
        "x2": {"field": "tx2"},
        "color": {"field": "role", "type": "nominal", "scale": {"domain": ["plain", "temp", "dew", "wet", "alt"], "range": ["#000000", "#ff0000", "#009000", "#3377ff", "#2222ff"]}, "legend": null}
      }
    },
    {
      "data": {"name": "notesLeft"},
      "mark": {"type": "text", "align": "left", "fontSize": 10},
      "encoding": {
        "text": {"field": "text"},
        "color": {"field": "role", "type": "nominal", "scale": {"domain": ["plain", "temp", "dew", "wet", "alt"], "range": ["#000000", "#ff0000", "#009000", "#3377ff", "#2222ff"]}, "legend": null}
      }
    },
    {
      "data": {"name": "notesRight"},
      "mark": {"type": "text", "align": "right", "fontSize": 10.5, "color": "#000000"},
      "encoding": {"text": {"field": "text"}}
    },
    {
      "data": {"values": [{"tx": -45.55, "p": 367.9, "text": "Pressure [hPa]"}, {"tx": -45.55, "p": 335.4, "text": "/"}]},
      "mark": {"type": "text", "angle": 270, "align": "right", "fontSize": 11, "color": "#000000"},
      "encoding": {"text": {"field": "text"}}
    },
    {
      "data": {"values": [{"tx": -45.55, "p": 318.7, "text": "Altitude [km]"}]},
      "mark": {"type": "text", "angle": 270, "align": "left", "fontSize": 11, "color": "#2222ff"},
      "encoding": {"text": {"field": "text"}}
    },
    {
      "data": {"values": [{"tx": 4.9, "p": 1154.6, "text": "Temperature [°C]\u00a0\u00a0/"}]},
      "mark": {"type": "text", "align": "right", "fontSize": 11, "color": "#000000"},
      "encoding": {"text": {"field": "text"}}
    },
    {
      "data": {"values": [{"tx": 6.86, "p": 1154.6, "text": "Mixing ratio [g/kg]"}]},
      "mark": {"type": "text", "align": "left", "fontSize": 11, "color": "#6cc630"},
      "encoding": {"text": {"field": "text"}}
    },
    {
      "data": {"values": [{"tx": -38.03, "p": 95.49, "text": "Praha-Libus\u00a0\u00a0\u00a0descent\u00a0\u00a0\u00a023.08.2026 07:15 UTC\u00a0\u00a0\u00a050.04N,15.53E"}]},
      "mark": {"type": "text", "align": "left", "fontSize": 12, "fontWeight": "bold", "color": "#000000"},
      "encoding": {"text": {"field": "text"}}
    },
    {
      "data": {"values": [{"tx": 59.29, "p": 95.49, "text": "CHMI © 2026"}]},
      "mark": {"type": "text", "align": "right", "fontSize": 11.5, "color": "#ff2020"},
      "encoding": {"text": {"field": "text"}}
    },
    {
      "data": {"name": "winds"},
      "mark": {"type": "point", "filled": true, "opacity": 1, "strokeWidth": 1.1, "size": 4},
      "encoding": {
        "shape": {
          "field": "barb", "type": "nominal", "legend": null,
          "scale": {
            "domain": ["b16", "b15", "b14", "b13", "b12", "b11", "mx", "b10", "b9", "b8", "b7", "b6", "b5", "b4", "b3", "b2", "b1", "sfc"],
            "range": [
              "M0,0L-22.4,11M-22.4,11L-28.5,4.4M-18.8,9.2L-24.9,2.6M-15.2,7.5L-21.3,0.9M-11.7,5.7L-14.8,2.4",
              "M0,0L-25,1M-25,1L-27.9,-7.5M-21,0.8L-23.9,-7.7M-17,0.7L-19.9,-7.8M-13,0.5L-15.9,-8",
              "M0,0L-24.5,4.8M-24.5,4.8L-28.7,-3.2L-20.6,4Z",
              "M0,0L-24.7,3.9M-24.7,3.9L-28.6,-4.2L-20.8,3.3ZM-19.3,3L-21.2,-1.1",
              "M0,0L-24.8,3.2M-24.8,3.2L-28.5,-5L-20.8,2.7ZM-19.3,2.5L-23,-5.7M-15.4,2L-17.2,-2.1",
              "M0,0L-25,0M-25,0L-26.3,-9L-21,0ZM-19.5,0L-20.8,-9M-15.5,0L-16.8,-9M-11.5,0L-12.8,-9",
              "M0,0L-25,0M-25,0L-26.3,-9L-21,0ZM-19.5,0L-20.8,-9M-15.5,0L-16.8,-9M-11.5,0L-12.8,-9",
              "M0,0L-25,0M-25,0L-26.3,-9L-21,0ZM-19.5,0L-20.8,-9M-15.5,0L-16.8,-9M-11.5,0L-12.2,-4.5",
              "M0,0L-25,0M-25,0L-26.3,-9L-21,0ZM-19.5,0L-20.8,-9M-15.5,0L-16.8,-9M-11.5,0L-12.2,-4.5",
              "M0,0L-25,0M-25,0L-26.3,-9L-21,0ZM-19.5,0L-20.8,-9M-15.5,0L-16.8,-9M-11.5,0L-12.2,-4.5",
              "M0,0L-25,0M-25,0L-26.3,-9L-21,0ZM-19.5,0L-20.8,-9",
              "M0,0L-24.8,-3.3M-24.8,-3.3L-26.2,-12.2M-20.8,-2.8L-22.2,-11.7M-16.9,-2.3L-18.3,-11.2M-12.9,-1.7L-14.3,-10.6",
              "M0,0L-23.4,-8.8M-23.4,-8.8L-22.8,-17.8M-19.7,-7.4L-19.1,-16.4M-15.9,-6L-15.6,-10.5",
              "M0,0L-24.3,-6.1M-24.3,-6.1L-24.7,-15.1M-20.4,-5.1L-20.8,-14.1",
              "M0,0L-24.8,-3.4M-24.8,-3.4L-26.2,-12.3M-20.8,-2.9L-22.2,-11.8",
              "M0,0L-24.8,-3.4M-24.8,-3.4L-26.2,-12.3M-20.8,-2.9L-22.2,-11.8",
              "M0,0L-23.1,-9.6M-23.1,-9.6L-22.2,-18.6",
              "M0,0L-22.4,-11.2M-22.4,-11.2L-21.3,-17.6"
            ]
          }
        },
        "fill": {"field": "kind", "type": "nominal", "legend": null, "scale": {"domain": ["wind", "mx", "sfc"], "range": ["#000000", "#ff0000", "#0000ff"]}},
        "stroke": {"field": "kind", "type": "nominal", "legend": null, "scale": {"domain": ["wind", "mx", "sfc"], "range": ["#000000", "#ff0000", "#0000ff"]}}
      }
    },
    {
      "data": {"name": "windDots"},
      "mark": {"type": "square", "size": 14, "opacity": 1},
      "encoding": {
        "fill": {"field": "kind", "type": "nominal", "legend": null, "scale": {"domain": ["wind", "mx", "sfc"], "range": ["#000000", "#ff0000", "#0000ff"]}}
      }
    }
  ]
}
